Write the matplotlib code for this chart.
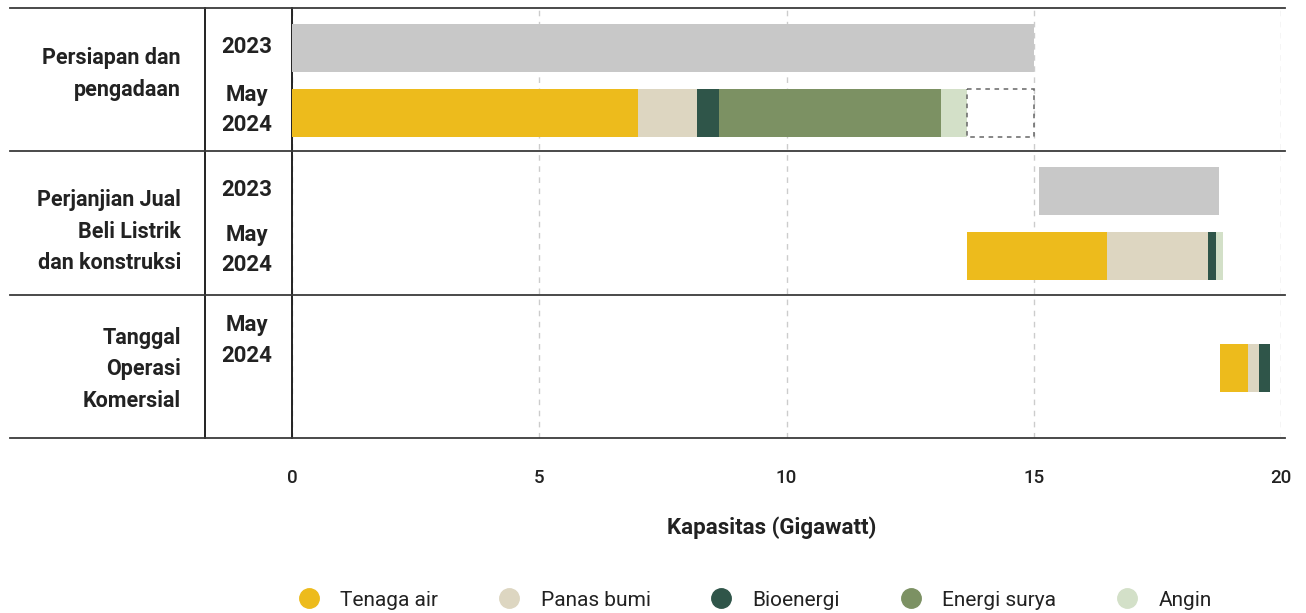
import matplotlib.pyplot as plt
from matplotlib.lines import Line2D

plt.rcParams['font.family'] = ['Roboto', 'DejaVu Sans']

# data (gigawatt)
sources = ['Tenaga air', 'Panas bumi', 'Bioenergi', 'Energi surya', 'Angin']
colors = ['#EDBB1C', '#DDD6C1', '#2F5549', '#7C9163', '#D3E0C8']

stages = ['Persiapan dan\npengadaan',
          'Perjanjian Jual\nBeli Listrik\ndan konstruksi',
          'Tanggal\nOperasi\nKomersial']

# 2023 totals (grey bars): start, length
total_2023_start = [0.0, 15.1]
total_2023_len = [15.0, 3.65]

# May 2024 breakdown: start of bar, then segment lengths per source
may2024_start = [0.0, 13.65, 18.77]
may2024_parts = [
    [7.0, 1.19, 0.44, 4.49, 0.53],
    [2.84, 2.04, 0.16, 0.0, 0.14],
    [0.57, 0.21, 0.22, 0.0, 0.0],
]
# unfilled remainder in stage 1 (dashed box)
remaining_start = 13.65
remaining_len = 1.35

fig = plt.figure(figsize=(13.06, 6.13), dpi=100)
ax = fig.add_axes([292/1306, 1-438/613, 989/1306, 430/613])

# y positions in "section" units, top section at 0
bh = 0.335
y2023 = [0.28, 1.28]
y2024 = [0.73, 1.73, 2.51]

ax.barh(y2023, total_2023_len, left=total_2023_start, height=bh,
        color='#C8C8C8', zorder=3)

for i, parts in enumerate(may2024_parts):
    left = may2024_start[i]
    for j, v in enumerate(parts):
        if v > 0:
            ax.barh(y2024[i], v, left=left, height=bh, color=colors[j], zorder=3)
        left += v

ax.barh(y2024[0], remaining_len, left=remaining_start, height=bh,
        facecolor='none', edgecolor='#666666', linestyle=(0, (3, 3)),
        linewidth=1.1, zorder=3)

ax.set_xlim(0, 20)
ax.set_ylim(3, 0)
ax.set_xticks([0, 5, 10, 15, 20])
ax.set_yticks([])
ax.tick_params(axis='x', length=0, pad=22, labelsize=13.5, colors='#222222')
for t in ax.get_xticklabels():
    t.set_fontweight('medium')
ax.grid(axis='x', color='#CCCCCC', linestyle=(0, (4, 4)), linewidth=1, zorder=0)
for s in ['top', 'right', 'bottom']:
    ax.spines[s].set_visible(False)
ax.spines['left'].set_color('#222222')
ax.spines['left'].set_linewidth(1.4)

ax.set_xlabel('Kapasitas (Gigawatt)', fontsize=16, fontweight='bold',
              color='#222222')
ax.xaxis.set_label_coords((772 - 292) / 989, (438 - 528) / 430)
ax.xaxis.label.set_va('center')

# table lines
x_left = (10 - 292) / 989
x_right = (1285 - 292) / 989
x_mid = (205 - 292) / 989
for yy in [0, 1, 2, 3]:
    ax.plot([x_left, x_right], [yy, yy], color='#3A3A3A', lw=1.3,
            transform=ax.get_yaxis_transform(), clip_on=False, zorder=4)
ax.plot([x_mid, x_mid], [0, 3], color='#222222', lw=1.4,
        transform=ax.get_yaxis_transform(), clip_on=False)

# row labels
x_stage = (181 - 292) / 989
x_year = (247 - 292) / 989
stage_y = [0.46, 1.56, 2.52]
for lab, yy in zip(stages, stage_y):
    ax.text(x_stage, yy, lab, transform=ax.get_yaxis_transform(),
            ha='right', va='center', fontsize=15.5, fontweight='bold',
            linespacing=1.55, color='#222222')
for yy in y2023:
    ax.text(x_year, yy - 0.01, '2023', transform=ax.get_yaxis_transform(),
            ha='center', va='center', fontsize=16, fontweight='bold', color='#222222')
for yy, dy in zip(y2024, [-0.02, -0.04, -0.19]):
    ax.text(x_year, yy + dy, 'May\n2024', transform=ax.get_yaxis_transform(),
            ha='center', va='center', fontsize=16, fontweight='bold',
            linespacing=1.5, color='#222222')

handles = [Line2D([0], [0], marker='o', linestyle='', markersize=14,
                  markerfacecolor=c, markeredgecolor=c) for c in colors]
fig.legend(handles, sources, loc='center', bbox_to_anchor=(750/1306, 1-600/613),
           ncol=5, frameon=False, fontsize=15, columnspacing=2.4,
           handletextpad=0.5, labelcolor='#222222')

fig.savefig('out.png', dpi=100)
